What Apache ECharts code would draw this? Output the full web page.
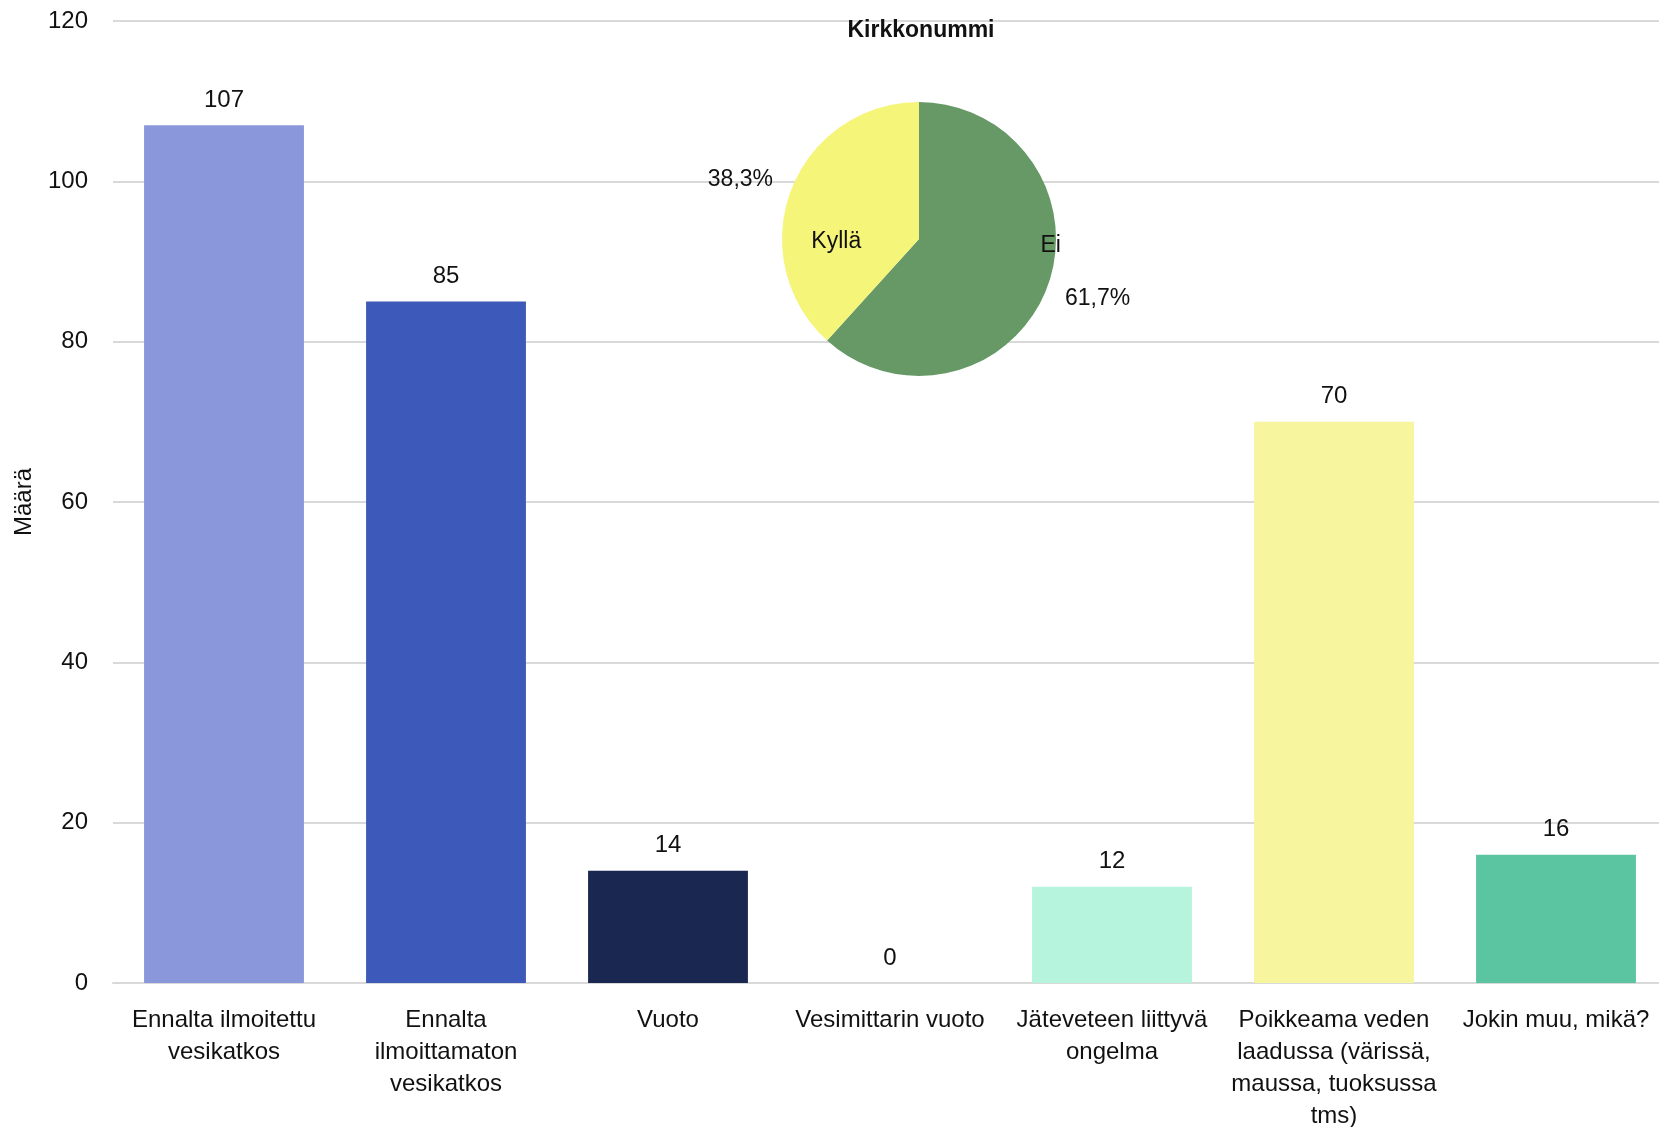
<!DOCTYPE html>
<html>
<head>
<meta charset="utf-8">
<script src="https://cdn.jsdelivr.net/npm/echarts@6/dist/echarts.min.js"></script>
<style>
  html, body { margin: 0; padding: 0; background: #ffffff; }
  #chart { width: 1659px; height: 1127px; }
</style>
</head>
<body>
<div id="chart"></div>
<script>
// Ilmoitusten syyt (pylväät)
const categories = [
  'Ennalta ilmoitettu\nvesikatkos',
  'Ennalta\nilmoittamaton\nvesikatkos',
  'Vuoto',
  'Vesimittarin vuoto',
  'Jäteveteen liittyvä\nongelma',
  'Poikkeama veden\nlaadussa (värissä,\nmaussa, tuoksussa\ntms)',
  'Jokin muu, mikä?'
];
const counts = [107, 85, 14, 0, 12, 70, 16];

// Y-akselin asteikko
const yMin = 0;
const yMax = 120;
const yStep = 20;

// Kirkkonummi: kyllä / ei -osuudet (%)
const pieTitle = 'Kirkkonummi';
const pieNames = ['Ei', 'Kyllä'];
const pieShares = [61.7, 38.3];

const barColors = ['#8a97da', '#3d59b9', '#1a2751', '#5b7fd0', '#b7f4de', '#f7f59e', '#5bc4a1'];
const pieColors = ['#669966', '#f5f57a'];
const FONT = '"Liberation Sans", Arial, sans-serif';
const TEXT = '#111111';

// Sisälabelien siirrot viipaleen keskikohdasta
const nameShift = [[65, -19], [-16, 28]];

const pctText = v => v.toFixed(1).replace('.', ',') + '%';

const chart = echarts.init(document.getElementById('chart'), null, { renderer: 'canvas' });

const pieData = pieNames.map((n, i) => ({ name: n, value: pieShares[i] }));
const PIE_CENTER = [919, 239];
const PIE_R = 137;

chart.setOption({
  animation: false,
  backgroundColor: '#ffffff',
  textStyle: { fontFamily: FONT },
  title: {
    text: pieTitle,
    left: 916,
    top: 14,
    textAlign: 'center',
    textStyle: { fontFamily: FONT, fontWeight: 'bold', fontSize: 23, color: TEXT }
  },
  grid: {
    left: 113, right: -8, top: 21, bottom: 144,
    containLabel: false,
    outerBoundsMode: 'none'
  },
  xAxis: {
    type: 'category',
    data: categories,
    axisLine: { show: true, lineStyle: { color: '#d9d9d9', width: 2 } },
    axisTick: { show: false },
    axisLabel: {
      interval: 0,
      margin: 21,
      fontFamily: FONT,
      fontSize: 24,
      lineHeight: 32,
      color: TEXT,
      align: 'center'
    }
  },
  yAxis: {
    type: 'value',
    min: yMin,
    max: yMax,
    interval: yStep,
    name: 'Määrä',
    nameLocation: 'middle',
    nameGap: 77,
    nameRotate: 90,
    nameTextStyle: { fontFamily: FONT, fontSize: 24, color: TEXT },
    axisLine: { show: false },
    axisTick: { show: false },
    axisLabel: { margin: 25, fontFamily: FONT, fontSize: 24, color: TEXT },
    splitLine: { show: true, lineStyle: { color: '#d9d9d9', width: 2 } }
  },
  series: [
    {
      type: 'bar',
      data: counts,
      barCategoryGap: '28%',
      itemStyle: { color: p => barColors[p.dataIndex] },
      label: {
        show: true,
        position: 'top',
        distance: 13,
        fontFamily: FONT,
        fontSize: 24,
        color: TEXT
      },
      z: 2
    },
    {
      // Viipaleet ja nimet
      type: 'pie',
      center: PIE_CENTER,
      radius: PIE_R,
      startAngle: 90,
      clockwise: true,
      avoidLabelOverlap: false,
      color: pieColors,
      data: pieData,
      itemStyle: { borderWidth: 0 },
      label: {
        show: true,
        position: 'inside',
        formatter: '{b}',
        fontFamily: FONT,
        fontSize: 23,
        color: TEXT
      },
      labelLayout: p => ({ dx: nameShift[p.dataIndex][0], dy: nameShift[p.dataIndex][1] }),
      emphasis: { disabled: true },
      z: 5
    },
    {
      // Prosenttiosuudet viipaleiden ulkopuolella
      type: 'pie',
      center: PIE_CENTER,
      radius: PIE_R,
      startAngle: 90,
      clockwise: true,
      silent: true,
      avoidLabelOverlap: false,
      data: pieData,
      itemStyle: { color: 'rgba(0,0,0,0)', borderWidth: 0 },
      label: {
        show: true,
        position: 'outside',
        formatter: p => pctText(p.value),
        distanceToLabelLine: -8,
        fontFamily: FONT,
        fontSize: 23,
        color: TEXT
      },
      labelLine: { show: false, length: 28, length2: 0 },
      emphasis: { disabled: true },
      z: 6
    }
  ]
});
</script>
</body>
</html>
